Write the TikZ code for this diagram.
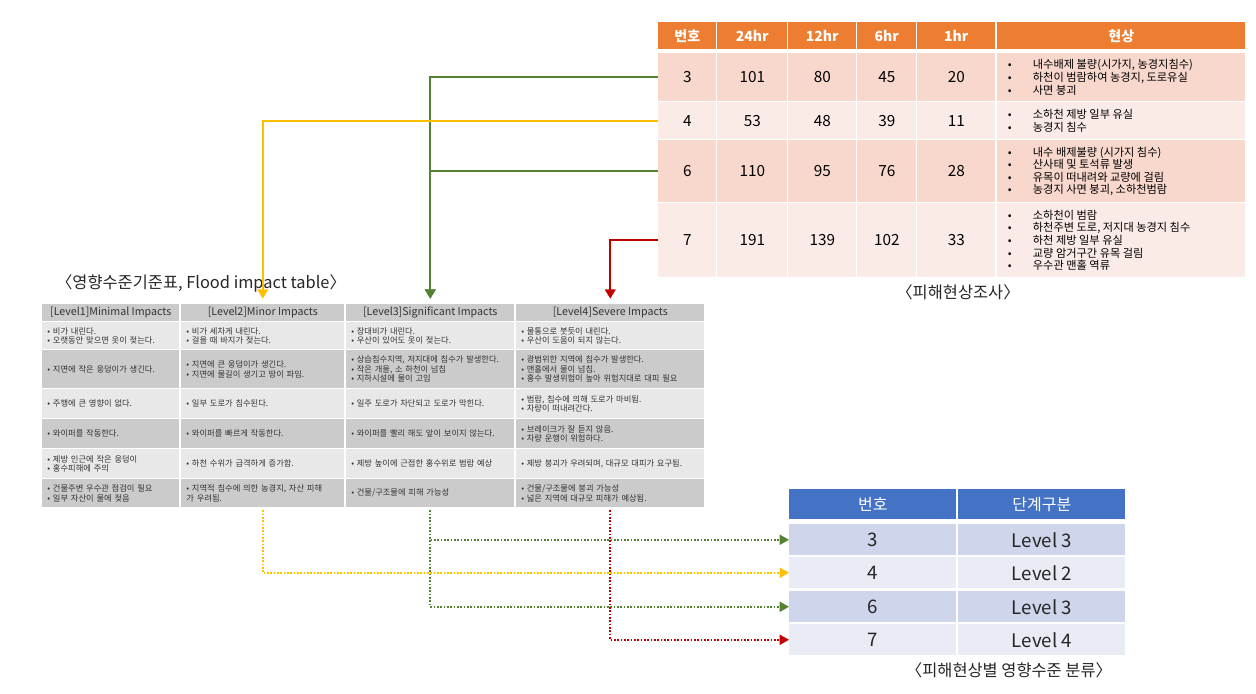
\documentclass[tikz,border=0pt]{standalone}
\usepackage{fontspec}
\setmainfont{Noto Sans CJK KR}
\usepackage{xcolor}
\definecolor{hdrorange}{HTML}{ED7D31}
\definecolor{rowdark}{HTML}{F8D8CD}
\definecolor{rowlight}{HTML}{FBEBE6}
\definecolor{lvgray}{HTML}{CBCBCB}
\definecolor{lvlight}{HTML}{E8E8E8}
\definecolor{lvtext}{HTML}{333333}
\definecolor{hdrblue}{HTML}{4472C4}
\definecolor{bluedark}{HTML}{CFD5EA}
\definecolor{bluelight}{HTML}{E9EBF5}
\definecolor{lvgreen}{HTML}{548235}
\definecolor{lvyellow}{HTML}{FFC000}
\definecolor{lvred}{HTML}{C00000}
\usepackage{tikz}
\usetikzlibrary{arrows.meta}

\tikzset{
  cell/.style 2 args={minimum width=#1*0.75pt,minimum height=#2*0.75pt,inner sep=0pt,anchor=north west},
  num/.style={font=\fontsize{11.5}{13}\selectfont},
  ohead/.style={fill=hdrorange,text=white,font=\bfseries\fontsize{10.5}{12}\selectfont},
  effect/.style={anchor=west,inner sep=0pt,align=left,font=\fontsize{8.4}{9.4}\selectfont},
  lvhead/.style={fill=lvgray,text=lvtext,font=\fontsize{8}{9}\selectfont},
  lvbody/.style={inner xsep=3.75pt,align=left,text=lvtext,font=\fontsize{6.2}{7.2}\selectfont},
  lvl/.style={text=black!85,font=\fontsize{14}{16}\selectfont},
  caption/.style={text=black!85,font=\fontsize{12.3}{14}\selectfont},
  link/.style={line width=1.5pt,-{Triangle[length=7pt,width=8pt]},shorten >=4pt},
  dotlink/.style={line width=1.4pt,dash pattern=on 1.3pt off 1.2pt,-{Triangle[length=7pt,width=7.5pt]},shorten <=2pt}
}
\newcommand{\bitem}[1]{\makebox[18.75pt][l]{•}#1}
% one row of the impact table: id, y, height, colour, four cells
\newcommand{\lvrow}[8]{%
  \node[cell={137}{#3},fill=#4,lvbody,text width=95pt] (l#1-1) at (42,#2) {#5};
  \node[cell={163}{#3},fill=#4,lvbody,text width=114.5pt] (l#1-2) at (181,#2) {#6};
  \node[cell={168}{#3},fill=#4,lvbody,text width=118.5pt] (l#1-3) at (346,#2) {#7};
  \node[cell={188}{#3},fill=#4,lvbody,text width=133.5pt] (l#1-4) at (516,#2) {#8};
}

\begin{document}
\begin{tikzpicture}[x=0.75pt,y=-0.75pt]
  \useasboundingbox (0,0) rectangle (1256,693);

  % rainfall / damage survey table
  \foreach \x/\w/\t [count=\i] in {658/58/번호,717/70/24hr,788/68/12hr,857/59/6hr,917/78/1hr,997/248/현상}
    \node[cell={\w}{27},ohead] (th\i) at (\x,22) {\t};
  \foreach \y/\h/\c/\n/\va/\vb/\vc/\vd in {53/48/rowdark/3/101/80/45/20,102/37/rowlight/4/53/48/39/11,140/62/rowdark/6/110/95/76/28,203/74/rowlight/7/191/139/102/33}{
    \node[cell={58}{\h},fill=\c,num] (r\n) at (658,\y) {\n};
    \node[cell={70}{\h},fill=\c,num] (r\n-a) at (717,\y) {\va};
    \node[cell={68}{\h},fill=\c,num] (r\n-b) at (788,\y) {\vb};
    \node[cell={59}{\h},fill=\c,num] (r\n-c) at (857,\y) {\vc};
    \node[cell={78}{\h},fill=\c,num] (r\n-d) at (917,\y) {\vd};
    \node[cell={248}{\h},fill=\c] (r\n-x) at (997,\y) {};
  }
  \node[effect] (e3) at ([xshift=8pt]r3-x.west) {\bitem{내수배제 불량(시가지, 농경지침수)}\\\bitem{하천이 범람하여 농경지, 도로유실}\\\bitem{사면 붕괴}};
  \node[effect] (e4) at ([xshift=8pt]r4-x.west) {\bitem{소하천 제방 일부 유실}\\\bitem{농경지 침수}};
  \node[effect] (e6) at ([xshift=8pt]r6-x.west) {\bitem{내수 배제불량 (시가지 침수)}\\\bitem{산사태 및 토석류 발생}\\\bitem{유목이 떠내려와 교량에 걸림}\\\bitem{농경지 사면 붕괴, 소하천범람}};
  \node[effect] (e7) at ([xshift=8pt]r7-x.west) {\bitem{소하천이 범람}\\\bitem{하천주변 도로, 저지대 농경지 침수}\\\bitem{하천 제방 일부 유실}\\\bitem{교량 암거구간 유목 걸림}\\\bitem{우수관 맨홀 역류}};
  \node[caption] (capT) at (958,292) {〈피해현상조사〉};

  % flood impact table
  \node[caption] (capL) at (201,283) {〈영향수준기준표, Flood impact table〉};
  \foreach \x/\w/\t [count=\i] in {42/137/{[Level1]Minimal Impacts},181/163/{[Level2]Minor Impacts},346/168/{[Level3]Significant Impacts},516/188/{[Level4]Severe Impacts}}
    \node[cell={\w}{17},lvhead] (h\i) at (\x,304) {\t};
  \lvrow{1}{322}{27}{lvlight}{• 비가 내린다.\\• 오랫동안 맞으면 옷이 젖는다.}{• 비가 세차게 내린다.\\• 걸을 때 바지가 젖는다.}{• 장대비가 내린다.\\• 우산이 있어도 옷이 젖는다.}{• 물통으로 붓듯이 내린다.\\• 우산이 도움이 되지 않는다.}
  \lvrow{2}{350}{38}{lvgray}{• 지면에 작은 웅덩이가 생긴다.}{• 지면에 큰 웅덩이가 생긴다.\\• 지면에 물길이 생기고 땅이 파임.}{• 상습침수지역, 저지대에 침수가 발생한다.\\• 작은 개울, 소 하천이 넘침\\• 지하시설에 물이 고임}{• 광범위한 지역에 침수가 발생한다.\\• 맨홀에서 물이 넘침.\\• 홍수 발생위험이 높아 위험지대로 대피 필요}
  \lvrow{3}{389}{29}{lvlight}{• 주행에 큰 영향이 없다.}{• 일부 도로가 침수된다.}{• 일주 도로가 차단되고 도로가 막힌다.}{• 범람, 침수에 의해 도로가 마비됨.\\• 차량이 떠내려간다.}
  \lvrow{4}{419}{29}{lvgray}{• 와이퍼를 작동한다.}{• 와이퍼를 빠르게 작동한다.}{• 와이퍼를 빨리 해도 앞이 보이지 않는다.}{• 브레이크가 잘 듣지 않음.\\• 차량 운행이 위험하다.}
  \lvrow{5}{449}{29}{lvlight}{• 제방 인근에 작은 웅덩이\\• 홍수피해에 주의}{• 하천 수위가 급격하게 증가함.}{• 제방 높이에 근접한 홍수위로 범람 예상}{• 제방 붕괴가 우려되며, 대규모 대피가 요구됨.}
  \lvrow{6}{479}{28}{lvgray}{• 건물주변 우수관 점검이 필요\\• 일부 자산이 물에 젖음}{• 지역적 침수에 의한 농경지, 자산 피해\\가 우려됨.}{• 건물/구조물에 피해 가능성}{• 건물/구조물에 붕괴 가능성\\• 넓은 지역에 대규모 피해가 예상됨.}

  % classification table
  \node[cell={167}{30},fill=hdrblue,text=white,font=\fontsize{12}{14}\selectfont] (bh1) at (789,489) {번호};
  \node[cell={167}{30},fill=hdrblue,text=white,font=\fontsize{12}{14}\selectfont] (bh2) at (958,489) {단계구분};
  \foreach \y/\c/\n/\l in {524/bluedark/3/3,557/bluelight/4/2,591/bluedark/6/3,624/bluelight/7/4}{
    \node[cell={167}{31},fill=\c,lvl] (b\n) at (789,\y) {\n};
    \node[cell={167}{31},fill=\c,lvl] (b\n-l) at (958,\y) {Level \l};
  }
  \node[caption] (capB) at (1009,670) {〈피해현상별 영향수준 분류〉};

  % links survey -> impact level
  \draw[link,lvgreen] (r3.west) -| (h3.north);
  \draw[link,lvgreen] (r6.west) -| (h3.north);
  \draw[link,lvyellow] (r4.west) -| (h2.north);
  \draw[link,lvred] (r7.west) -| (h4.north);

  % links impact level -> classification
  \draw[dotlink,lvgreen] (l6-3.south) |- (b3.west);
  \draw[dotlink,lvgreen] (l6-3.south) |- (b6.west);
  \draw[dotlink,lvyellow] (l6-2.south) |- (b4.west);
  \draw[dotlink,lvred] (l6-4.south) |- (b7.west);
\end{tikzpicture}
\end{document}
